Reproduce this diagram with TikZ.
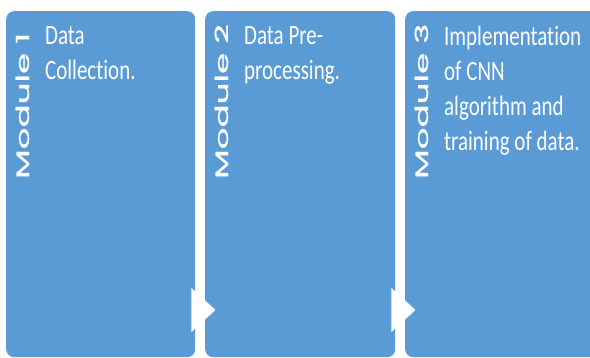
\documentclass[tikz,border=0pt]{standalone}
\usepackage{fontspec}
\setmainfont{Carlito}[Ligatures=NoCommon]
\newfontfamily\modfont{Poppins}[FakeBold=0.9]
\usetikzlibrary{shapes.geometric}
\definecolor{modblue}{RGB}{91,155,213}

\begin{document}
\begin{tikzpicture}[x=1pt,y=1pt,
    modbox/.style={fill=modblue, rounded corners=8pt, inner sep=0, anchor=north west, minimum height=346pt},
    modtitle/.style={text=white, rotate=90, anchor=base west, inner sep=0, font=\modfont\fontsize{18}{18}\selectfont},
    moddesc/.style={text=white, xscale=0.75, anchor=north west, inner sep=0, align=left, font=\fontsize{28}{35}\selectfont},
    flowtip/.style={isosceles triangle, isosceles triangle stretches, fill=white, minimum width=44pt, minimum height=24pt, inner sep=0, anchor=apex}]
  \clip (0,0) rectangle (590,358);

  % three module blocks
  \foreach \i/\x/\w/\txt in {1/6/189/{Data\\Collection.}, 2/205/190/{Data Pre-\\processing.}, 3/405/200/{Implementation\\of CNN\\algorithm and\\training of data.}} {
    \node[modbox, minimum width=\w pt] (box\i) at (\x,347) {};
    \node[modtitle] (title\i) at (\x+23,179) {\scalebox{1.9}[1]{Module \i}};
    \node[moddesc] (desc\i) at (\x+39,332) {\txt};
  }

  % small arrow heads between blocks
  \node[flowtip] (tip1) at (216,48) {};
  \node[flowtip] (tip2) at (416,48) {};
\end{tikzpicture}
\end{document}
